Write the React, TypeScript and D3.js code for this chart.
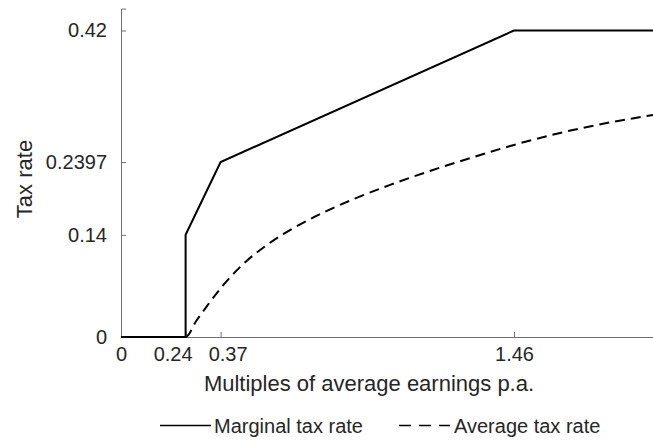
import { useEffect, useRef } from "react";
import { axisBottom, axisLeft, curveMonotoneX, line, scaleLinear, select } from "d3";

// marginal tax rate schedule (kinks)
const marginalX = [0, 0.24, 0.24, 0.37, 1.46, 2];
const marginalY = [0, 0, 0.14, 0.2397, 0.42, 0.42];

// average tax rate, read at sample points
const averageX = [0, 0.24, 0.28, 0.32, 0.37, 0.45, 0.55, 0.65, 0.75, 0.85, 1.0, 1.15, 1.3, 1.46, 1.6, 1.75, 1.9, 2];
const averageY = [0, 0, 0.0222, 0.0427, 0.0667, 0.0986, 0.1282, 0.1512, 0.1703, 0.1868, 0.2085, 0.2278, 0.2455, 0.2632, 0.2769, 0.2892, 0.2995, 0.3055];

const xTicks = [0, 0.24, 0.37, 1.46];
const yTicks = [0, 0.14, 0.2397, 0.42];

const font = "'Liberation Sans', Arial, Helvetica, sans-serif";
const textColor = "#262626";
const axisColor = "#707070";

// the two close x labels are pushed apart so they don't collide
const xLabelNudge = [0, -13, 7, 0];

const W = 653;
const H = 441;

export default function App() {
    const xRef = useRef<SVGGElement>(null);
    const yRef = useRef<SVGGElement>(null);

    const x = scaleLinear().domain([0, 2]).range([121, 121 + 2 * 269.2]);
    const y = scaleLinear().domain([0, 0.45]).range([337, 337 - 0.45 * 729.8]);

    useEffect(() => {
        if (xRef.current) {
            const g = select(xRef.current);
            g.call(
                axisBottom(x)
                    .tickValues(xTicks)
                    .tickFormat((d) => String(d))
                    .tickSizeInner(-5)
                    .tickSizeOuter(-5)
                    .tickPadding(10)
            );
            g.selectAll("path, line").attr("stroke", axisColor);
            g.selectAll("text")
                .attr("fill", textColor)
                .attr("x", (_, i) => xLabelNudge[i])
                .style("font-family", font)
                .style("font-size", "20px");
        }
        if (yRef.current) {
            const g = select(yRef.current);
            g.call(
                axisLeft(y)
                    .tickValues(yTicks)
                    .tickFormat((d) => String(d))
                    .tickSizeInner(-5)
                    .tickSizeOuter(-5)
                    .tickPadding(14)
            );
            g.selectAll("path, line").attr("stroke", axisColor);
            g.selectAll("text")
                .attr("fill", textColor)
                .style("font-family", font)
                .style("font-size", "20px");
        }
    }, []);

    const marginal = marginalX.map((v, i) => [v, marginalY[i]] as [number, number]);
    const average = averageX.map((v, i) => [v, averageY[i]] as [number, number]);

    const straight = line<[number, number]>()
        .x((d) => x(d[0]))
        .y((d) => y(d[1]));
    const smooth = line<[number, number]>()
        .x((d) => x(d[0]))
        .y((d) => y(d[1]))
        .curve(curveMonotoneX);

    return (
        <svg
            width={W}
            height={H}
            style={{ position: "absolute", left: 0, top: 0, background: "#fff" }}
            fontFamily={font}
        >
            <rect width={W} height={H} fill="#fff" />
            <g ref={xRef} transform={`translate(0, ${y(0)})`} />
            <g ref={yRef} transform={`translate(${x(0)}, 0)`} />

            <path d={smooth(average) ?? ""} fill="none" stroke="#000" strokeWidth={2} strokeDasharray="10,6" />
            <path d={straight(marginal) ?? ""} fill="none" stroke="#000" strokeWidth={2} />

            <text x={369} y={391} textAnchor="middle" fontSize={22} fill={textColor}>
                Multiples of average earnings p.a.
            </text>
            <text transform="translate(32, 179) rotate(-90)" textAnchor="middle" fontSize={22} fill={textColor}>
                Tax rate
            </text>

            <line x1={160} x2={211} y1={425.5} y2={425.5} stroke="#000" strokeWidth={1.5} />
            <text x={214} y={433} fontSize={20} fill={textColor}>
                Marginal tax rate
            </text>
            <line x1={399} x2={450} y1={425.5} y2={425.5} stroke="#000" strokeWidth={1.5} strokeDasharray="12,8" />
            <text x={454} y={433} fontSize={20} fill={textColor}>
                Average tax rate
            </text>
        </svg>
    );
}
